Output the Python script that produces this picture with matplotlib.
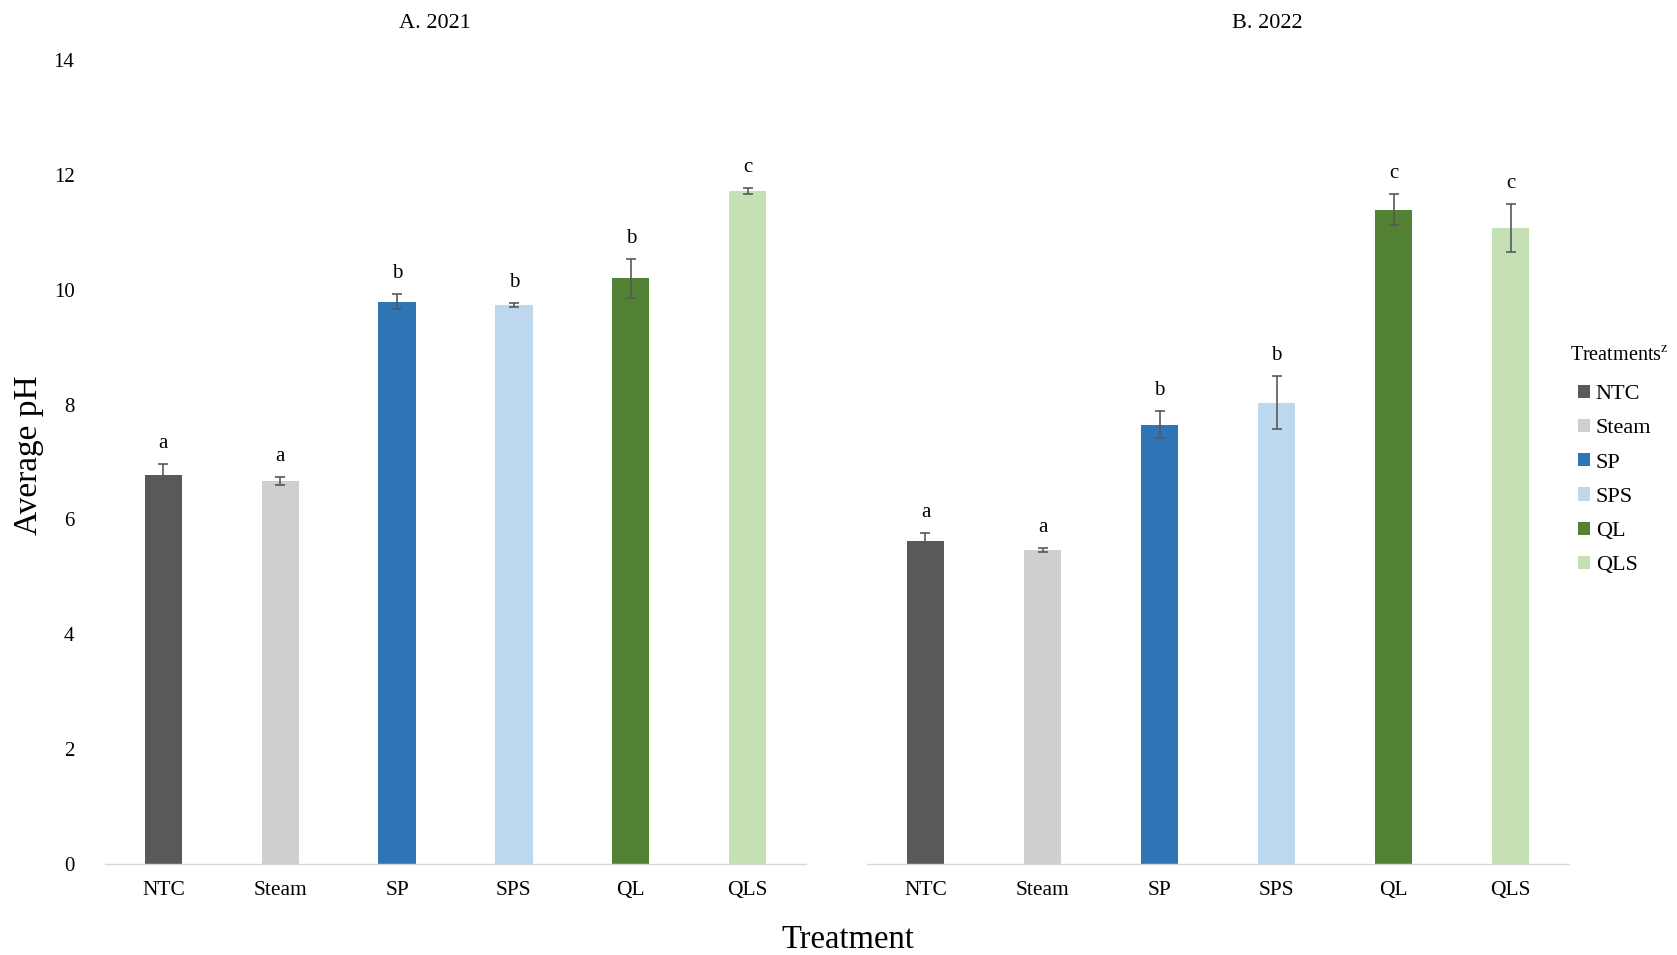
import matplotlib
matplotlib.use("Agg")
import matplotlib.pyplot as plt
from matplotlib.patches import Patch

plt.rcParams['font.family'] = ['Liberation Serif', 'DejaVu Serif']
plt.rcParams['mathtext.fontset'] = 'stix'

treatments = ["NTC", "Steam", "SP", "SPS", "QL", "QLS"]
colors = ["#595959", "#D0CECE", "#2E75B6", "#BDD7EE", "#548235", "#C5E0B4"]

ph_2021 = [6.78, 6.67, 9.79, 9.73, 10.20, 11.72]
err_2021 = [0.19, 0.07, 0.13, 0.03, 0.34, 0.05]
letters_2021 = ["a", "a", "b", "b", "b", "c"]

ph_2022 = [5.63, 5.47, 7.65, 8.03, 11.39, 11.07]
err_2022 = [0.14, 0.03, 0.24, 0.46, 0.27, 0.42]
letters_2022 = ["a", "a", "b", "b", "c", "c"]

W, H = 1677, 955
fig = plt.figure(figsize=(W / 100, H / 100), dpi=100)

ax_a = fig.add_axes([105 / W, 1 - 864 / H, 701 / W, 804 / H])
ax_b = fig.add_axes([867 / W, 1 - 864 / H, 702 / W, 804 / H])


def draw_panel(ax, values, errs, letters, show_y):
    x = range(len(treatments))
    ax.bar(x, values, width=0.32, color=colors, zorder=2)
    ax.errorbar(x, values, yerr=errs, fmt="none", ecolor="#595959",
                elinewidth=1.2, capsize=3.5, capthick=1.2, zorder=3)
    for xi, v, e, lab in zip(x, values, errs, letters):
        ax.annotate(lab, (xi, v + e), xytext=(0, 8), textcoords="offset points",
                    ha="center", va="bottom", fontsize=15)
    ax.set_xlim(-0.5, len(treatments) - 0.5)
    ax.set_ylim(0, 14)
    ax.set_yticks(range(0, 15, 2))
    ax.set_xticks(list(x))
    ax.set_xticklabels(treatments, fontsize=15.5)
    ax.tick_params(axis="both", length=0)
    ax.tick_params(axis="x", pad=12)
    ax.tick_params(axis="y", pad=22, labelsize=15)
    if not show_y:
        ax.set_yticklabels([])
    for side in ["top", "right", "left"]:
        ax.spines[side].set_visible(False)
    ax.spines["bottom"].set_color("#D9D9D9")
    ax.spines["bottom"].set_linewidth(1.0)


draw_panel(ax_a, ph_2021, err_2021, letters_2021, True)
draw_panel(ax_b, ph_2022, err_2022, letters_2022, False)

fig.text(435 / W, 1 - 24 / H, "A. 2021", fontsize=16, ha="center", va="center")
fig.text(1267 / W, 1 - 24 / H, "B. 2022", fontsize=16, ha="center", va="center")

fig.text(29 / W, 1 - 455 / H, "Average pH", rotation=90, fontsize=24,
         ha="center", va="center")
fig.text(848 / W, 1 - 940 / H, "Treatment", fontsize=23.5, ha="center", va="center")

# legend title drawn separately so it can hang left of the swatches
fig.text(1570 / W, 1 - 356 / H, "Treatments$^{\\mathrm{z}}$", fontsize=14.5,
         ha="left", va="center")
handles = [Patch(facecolor=c, edgecolor="none", label=t)
           for c, t in zip(colors, treatments)]
fig.legend(handles=handles, loc="center left",
           bbox_to_anchor=(1558 / W, 1 - 480 / H),
           frameon=False, fontsize=16,
           handlelength=0.55, handleheight=0.55, handletextpad=0.25,
           labelspacing=0.66)

fig.savefig("out.png", dpi=100)
